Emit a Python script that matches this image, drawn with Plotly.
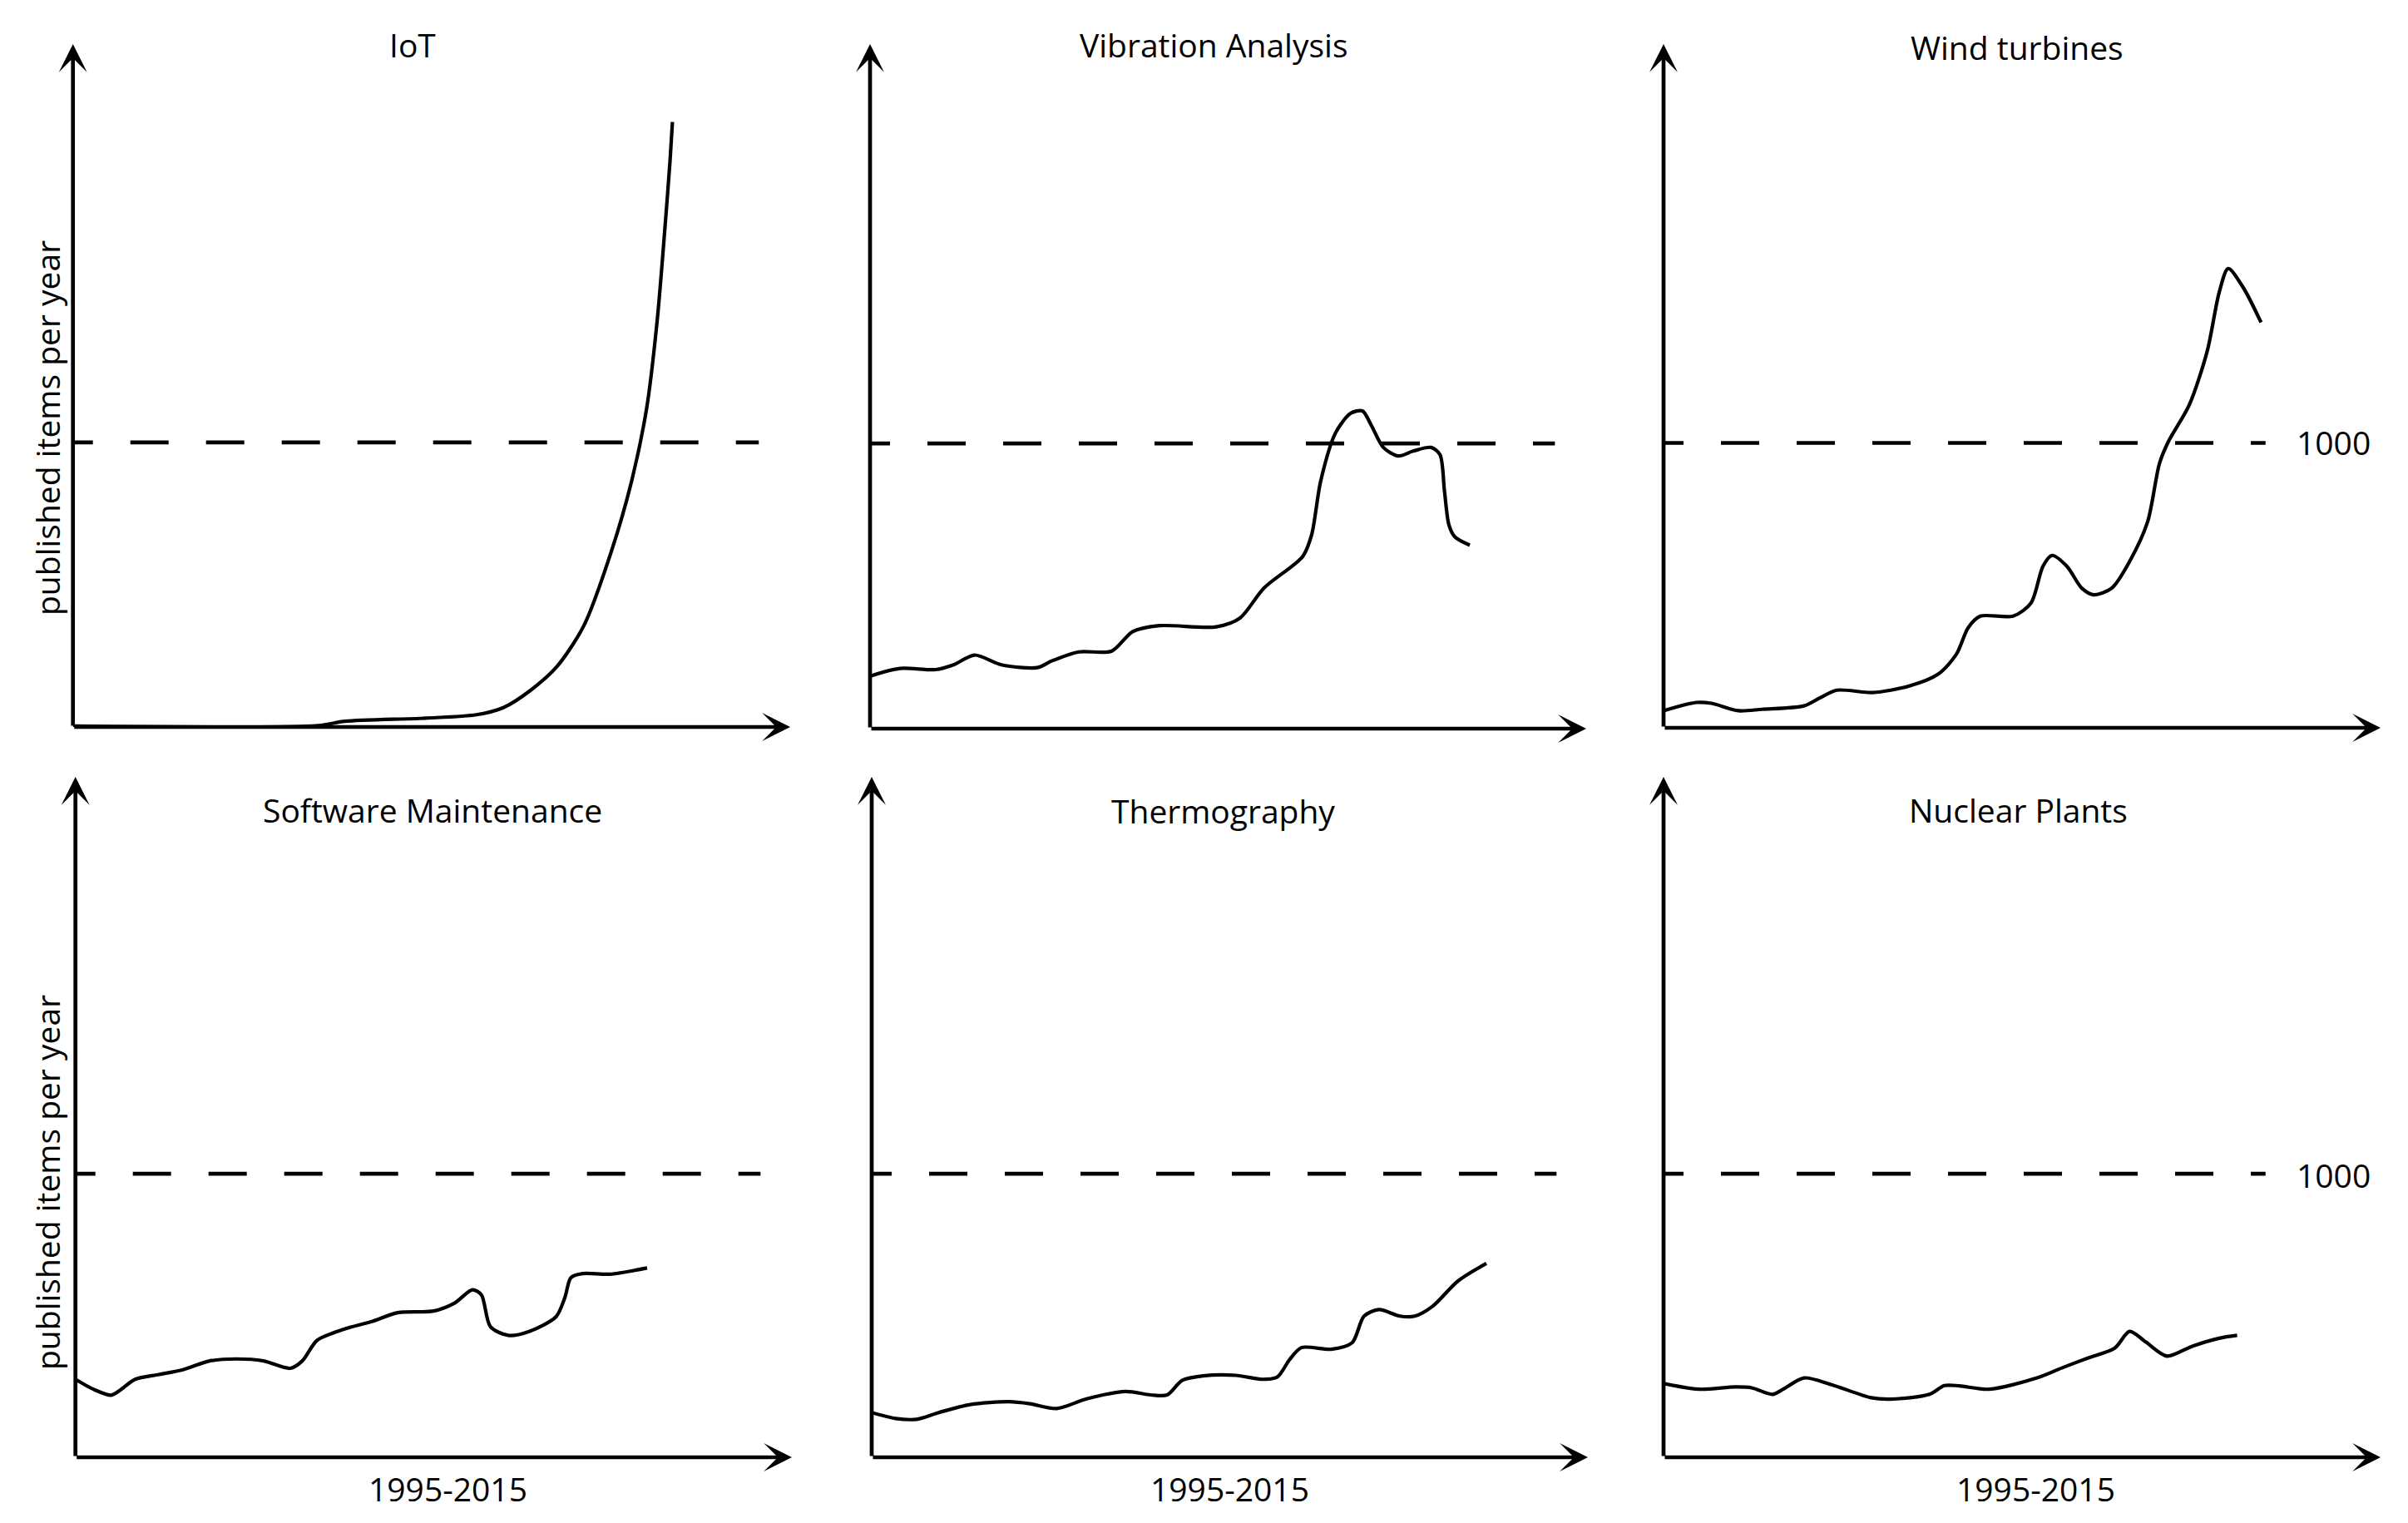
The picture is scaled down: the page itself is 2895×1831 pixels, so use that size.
import plotly.graph_objects as go

# ---------------- data ----------------
titles = ["IoT", "Vibration Analysis", "Wind turbines",
          "Software Maintenance", "Thermography", "Nuclear Plants"]

iot_years = [1995.0, 2003.2, 2004.1, 2006.8, 2008.5, 2009.4, 2010.3, 2011.2, 2012.1,
             2013.0, 2013.7, 2014.2, 2014.55, 2014.82, 2014.98, 2015.06]
iot_vals = [3, 5, 20, 31, 43, 68, 128, 213, 357, 612, 867, 1122, 1429, 1769, 1990, 2126]

vib_years = [1995.0, 1996.0, 1997.2, 1997.8, 1998.5, 1999.4, 2000.6, 2001.1, 2002.0,
             2003.1, 2003.8, 2004.7, 2006.6, 2007.4, 2008.2, 2009.5, 2009.8, 2010.1,
             2010.6, 2011.1, 2011.5, 2011.8, 2012.2, 2012.7, 2013.2, 2013.8, 2014.1,
             2014.25, 2014.4, 2014.6, 2015.1]
vib_vals = [184, 211, 207, 224, 258, 224, 214, 238, 269, 272, 340, 361, 357, 388, 493,
            604, 680, 867, 1037, 1105, 1114, 1063, 986, 956, 973, 986, 961, 833, 714,
            672, 643]

wind_years = [1995.0, 1996.1, 1996.6, 1997.5, 1998.3, 1999.7, 2000.2, 2000.8, 2002.0,
              2003.2, 2004.2, 2004.8, 2005.2, 2005.6, 2006.7, 2007.3, 2007.7, 2008.0,
              2008.5, 2009.0, 2009.4, 2010.0, 2010.6, 2011.2, 2011.6, 2011.9, 2012.6,
              2013.2, 2013.6, 2013.9, 2014.4, 2015.0]
wind_vals = [60, 89, 86, 60, 65, 77, 103, 132, 124, 146, 189, 258, 352, 392, 392, 438,
             567, 605, 567, 490, 467, 490, 584, 722, 928, 1005, 1134, 1323, 1529, 1612,
             1546, 1423]

soft_years = [1995.0, 1995.6, 1996.2, 1996.5, 1997.0, 1997.8, 1998.6, 1999.5, 2000.4,
              2001.3, 2002.2, 2002.6, 2003.1, 2004.0, 2004.9, 2005.8, 2007.0, 2007.7,
              2008.3, 2008.6, 2008.9, 2009.5, 2010.2, 2011.1, 2011.4, 2011.6, 2012.0,
              2012.9, 2014.15]
soft_vals = [275, 240, 219, 237, 275, 292, 309, 340, 347, 340, 314, 340, 413, 452, 478,
             510, 516, 544, 591, 573, 461, 430, 444, 496, 565, 634, 648, 646, 668]

thermo_years = [1995.0, 1995.8, 1996.5, 1997.25, 1998.3, 1999.6, 2000.3, 2001.2, 2002.2,
                2003.5, 2004.35, 2004.9, 2005.4, 2006.1, 2007.2, 2008.1, 2008.6, 2009.0,
                2009.4, 2010.4, 2011.1, 2011.5, 2012.0, 2012.7, 2013.2, 2013.8, 2014.65,
                2015.6]
thermo_vals = [158, 137, 134, 158, 186, 196, 189, 172, 206, 232, 220, 220, 271, 287, 289,
               275, 284, 344, 387, 381, 404, 498, 521, 498, 498, 533, 622, 684]

nuc_years = [1995.0, 1996.2, 1997.4, 1997.95, 1998.65, 1999.0, 1999.7, 2000.6, 2001.95,
             2002.6, 2003.9, 2004.4, 2004.9, 2005.9, 2007.5, 2008.4, 2009.2, 2010.1,
             2010.6, 2011.15, 2011.85, 2012.7, 2013.6, 2014.2]
nuc_vals = [260, 240, 248, 245, 222, 240, 280, 257, 210, 205, 222, 253, 252, 240, 280,
            318, 350, 385, 444, 406, 357, 392, 420, 430]

series_years = [iot_years, vib_years, wind_years, soft_years, thermo_years, nuc_years]
series_vals = [iot_vals, vib_vals, wind_vals, soft_vals, thermo_vals, nuc_vals]

threshold = 1000
threshold_label = ["", "", "1000", "", "", "1000"]
dash_end = [2017.95, 2017.95, 2015.15, 2017.95, 2017.95, 2015.15]

x_label = "1995-2015"
y_label = "published items per year"

# ---------------- layout ----------------
W, H = 2895, 1831
X0, X1 = 1995, 2019
Y0, Y1 = 0, 2400
FONT = "Open Sans"
FS = 39

panel_x = [(87.7, 950), (1046, 1907), (2000, 2862), (90.7, 952), (1048, 1909), (2000, 2862)]
panel_y = [(53, 874), (53, 876), (53, 875), (934, 1752), (934, 1752), (934, 1752)]
title_px = [(496, 53), (1459, 53), (2425, 57), (520, 973), (1470, 975), (2426, 973)]
ylabel_px = [(56, 515), (56, 1422)]
xlabel_px = [(538, 1789), (1478, 1789), (2447, 1789)]
label1000_px = [(2805, 531), (2805, 1412)]

fig = go.Figure()
layout = dict(width=W, height=H, margin=dict(l=0, r=0, t=0, b=0),
              paper_bgcolor="white", plot_bgcolor="white", showlegend=False)
annotations = []
k1000 = 0
for i in range(6):
    n = "" if i == 0 else str(i + 1)
    xa, ya = "x" + n, "y" + n
    xd = [panel_x[i][0] / W, panel_x[i][1] / W]
    yd = [1 - panel_y[i][1] / H, 1 - panel_y[i][0] / H]
    axis_common = dict(showgrid=False, zeroline=False, showline=False,
                       showticklabels=False, ticks="", fixedrange=True)
    layout["xaxis" + n] = dict(domain=xd, range=[X0, X1], anchor=ya, **axis_common)
    layout["yaxis" + n] = dict(domain=yd, range=[Y0, Y1], anchor=xa, **axis_common)

    # threshold dashed line
    fig.add_trace(go.Scatter(x=[X0, dash_end[i]], y=[threshold, threshold],
                             mode="lines", xaxis=xa, yaxis=ya, hoverinfo="skip",
                             line=dict(color="black", width=4.7,
                                       dash="24px,45px" + ",46px,45px" * 12)))
    # curve
    fig.add_trace(go.Scatter(x=series_years[i], y=series_vals[i], mode="lines",
                             xaxis=xa, yaxis=ya,
                             line=dict(color="black", width=4.2, shape="spline",
                                       smoothing=0.8)))
    # axis arrows
    for (hx, hy) in [(X1, Y0), (X0, Y1)]:
        annotations.append(dict(x=hx, y=hy, ax=X0, ay=Y0, xref=xa, yref=ya,
                                axref=xa, ayref=ya, showarrow=True, arrowhead=3,
                                arrowwidth=4.7, arrowsize=1.2, arrowcolor="black",
                                text=""))
    # title
    annotations.append(dict(x=title_px[i][0] / W, y=1 - title_px[i][1] / H,
                            xref="paper", yref="paper", text=titles[i],
                            showarrow=False, xanchor="center", yanchor="middle",
                            font=dict(family=FONT, size=FS, color="black")))
    if threshold_label[i]:
        lx, ly = label1000_px[k1000]
        k1000 += 1
        annotations.append(dict(x=lx / W, y=1 - ly / H, xref="paper", yref="paper",
                                text=threshold_label[i], showarrow=False,
                                xanchor="center", yanchor="middle",
                                font=dict(family=FONT, size=FS, color="black")))

for (px, py) in ylabel_px:
    annotations.append(dict(x=px / W, y=1 - py / H, xref="paper", yref="paper",
                            text=y_label, textangle=-90, showarrow=False,
                            xanchor="center", yanchor="middle",
                            font=dict(family=FONT, size=FS, color="black")))
for (px, py) in xlabel_px:
    annotations.append(dict(x=px / W, y=1 - py / H, xref="paper", yref="paper",
                            text=x_label, showarrow=False, xanchor="center",
                            yanchor="middle",
                            font=dict(family=FONT, size=FS, color="black")))

layout["annotations"] = annotations
fig.update_layout(**layout)
fig.write_html("out.html", config={"displayModeBar": False},
               post_script="document.body.style.margin='0px';"
                           "document.body.style.overflow='hidden';")
